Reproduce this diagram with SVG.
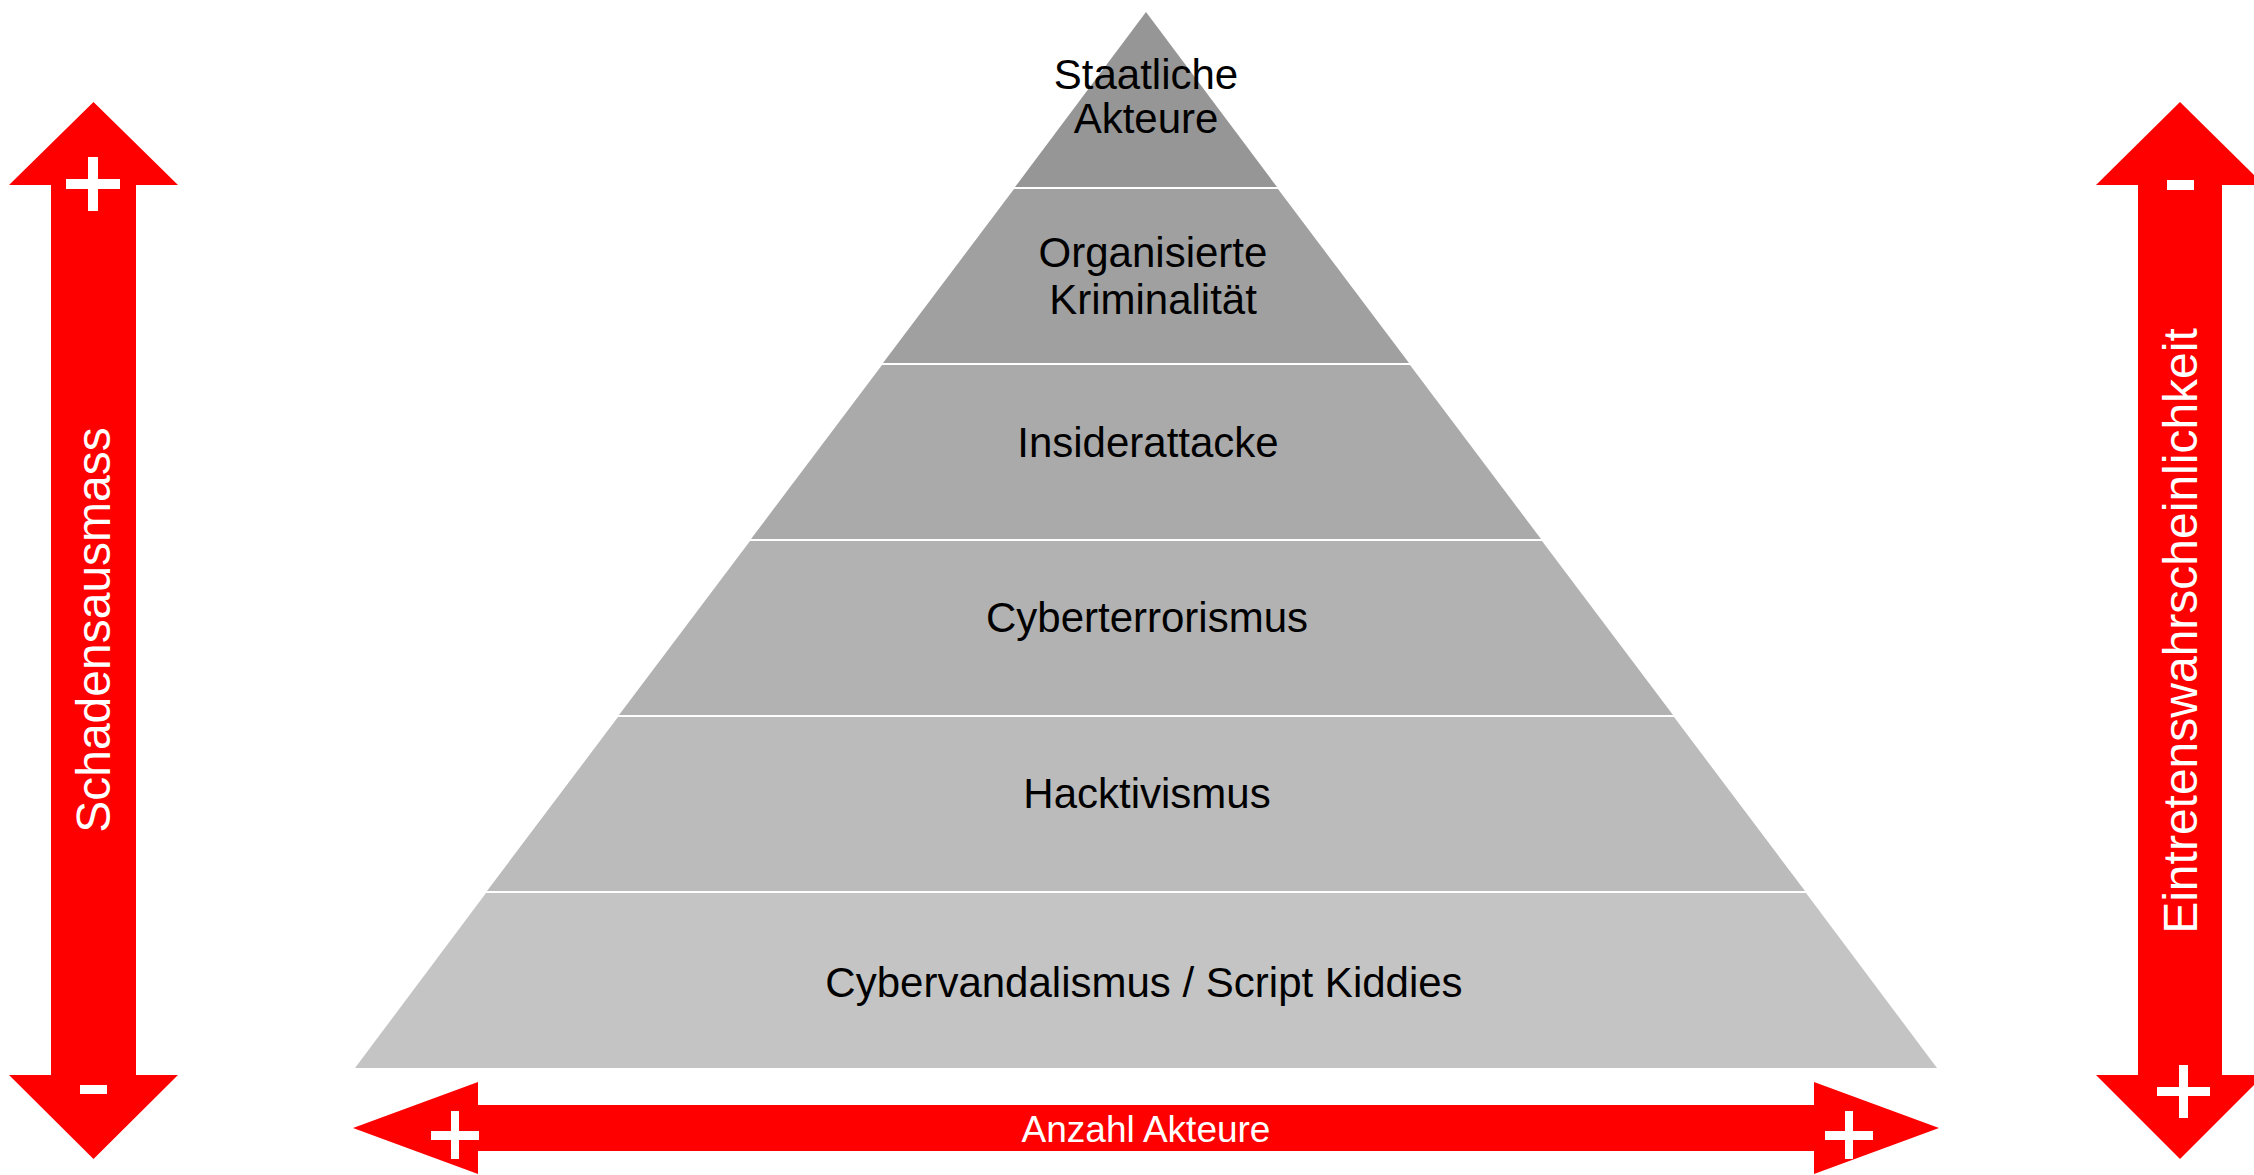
<svg xmlns="http://www.w3.org/2000/svg" width="2254" height="1175" viewBox="0 0 2254 1175">
  <style>
    .lbl { font-family: "Liberation Sans", Arial, sans-serif; font-size: 42px; fill: #000; text-anchor: middle; }
    .axis { font-family: "Liberation Sans", Arial, sans-serif; font-size: 48px; fill: #fff; text-anchor: middle; }
    .axis-h { font-family: "Liberation Sans", Arial, sans-serif; font-size: 37px; fill: #fff; text-anchor: middle; }
    .arrow { fill: #ff0000; }
    .sign { fill: #ffffff; }
  </style>
  <rect width="2254" height="1175" fill="#ffffff"/>

  <!-- pyramid layers, top to bottom -->
  <g id="layer-staatliche-akteure">
    <polygon points="1146,12 1277,187 1015,187" fill="#969696"/>
    <text class="lbl" x="1146" y="89">Staatliche</text>
    <text class="lbl" x="1146" y="133">Akteure</text>
  </g>
  <g id="layer-organisierte-kriminalitaet">
    <polygon points="1014,189 1278,189 1409,363 883,363" fill="#a0a0a0"/>
    <text class="lbl" x="1153" y="267">Organisierte</text>
    <text class="lbl" x="1153" y="314">Kriminalität</text>
  </g>
  <g id="layer-insiderattacke">
    <polygon points="882,365 1410,365 1541,539 751,539" fill="#aaaaaa"/>
    <text class="lbl" x="1148" y="457">Insiderattacke</text>
  </g>
  <g id="layer-cyberterrorismus">
    <polygon points="750,541 1542,541 1673,715 619,715" fill="#b2b2b2"/>
    <text class="lbl" x="1147" y="632">Cyberterrorismus</text>
  </g>
  <g id="layer-hacktivismus">
    <polygon points="618,717 1674,717 1805,891 487,891" fill="#bbbbbb"/>
    <text class="lbl" x="1147" y="808">Hacktivismus</text>
  </g>
  <g id="layer-cybervandalismus">
    <polygon points="486,893 1806,893 1937,1068 355,1068" fill="#c4c4c4"/>
    <text class="lbl" x="1144" y="997">Cybervandalismus / Script Kiddies</text>
  </g>

  <!-- axis arrows -->
  <g id="connectors">
    <g id="axis-schadensausmass">
      <polygon class="arrow" points="93.5,102 9,185 51,185 51,1075 9,1075 93.5,1159 178,1075 136,1075 136,185 178,185"/>
      <rect class="sign" x="88" y="157" width="10" height="54"/>
      <rect class="sign" x="66" y="179" width="54" height="10"/>
      <rect class="sign" x="80" y="1085" width="27" height="9"/>
      <text class="axis" transform="translate(110,630) rotate(-90)" x="0" y="0">Schadensausmass</text>
    </g>
    <g id="axis-eintretenswahrscheinlichkeit">
      <polygon class="arrow" points="2180,102 2096,185 2138,185 2138,1075 2096,1075 2180,1159 2264,1075 2222,1075 2222,185 2264,185"/>
      <rect class="sign" x="2167" y="180" width="27" height="10"/>
      <rect class="sign" x="2179" y="1065" width="9" height="53"/>
      <rect class="sign" x="2157" y="1087" width="53" height="9"/>
      <text class="axis" transform="translate(2197,631) rotate(-90)" x="0" y="0">Eintretenswahrscheinlichkeit</text>
    </g>
    <g id="axis-anzahl-akteure">
      <polygon class="arrow" points="353,1128 478,1082 478,1105 1814,1105 1814,1082 1939,1128 1814,1174 1814,1151 478,1151 478,1174"/>
      <rect class="sign" x="451" y="1111" width="8" height="48"/>
      <rect class="sign" x="431" y="1131" width="48" height="9"/>
      <rect class="sign" x="1845" y="1111" width="8" height="48"/>
      <rect class="sign" x="1825" y="1131" width="48" height="9"/>
      <text class="axis-h" x="1146" y="1142">Anzahl Akteure</text>
    </g>
  </g>
</svg>
